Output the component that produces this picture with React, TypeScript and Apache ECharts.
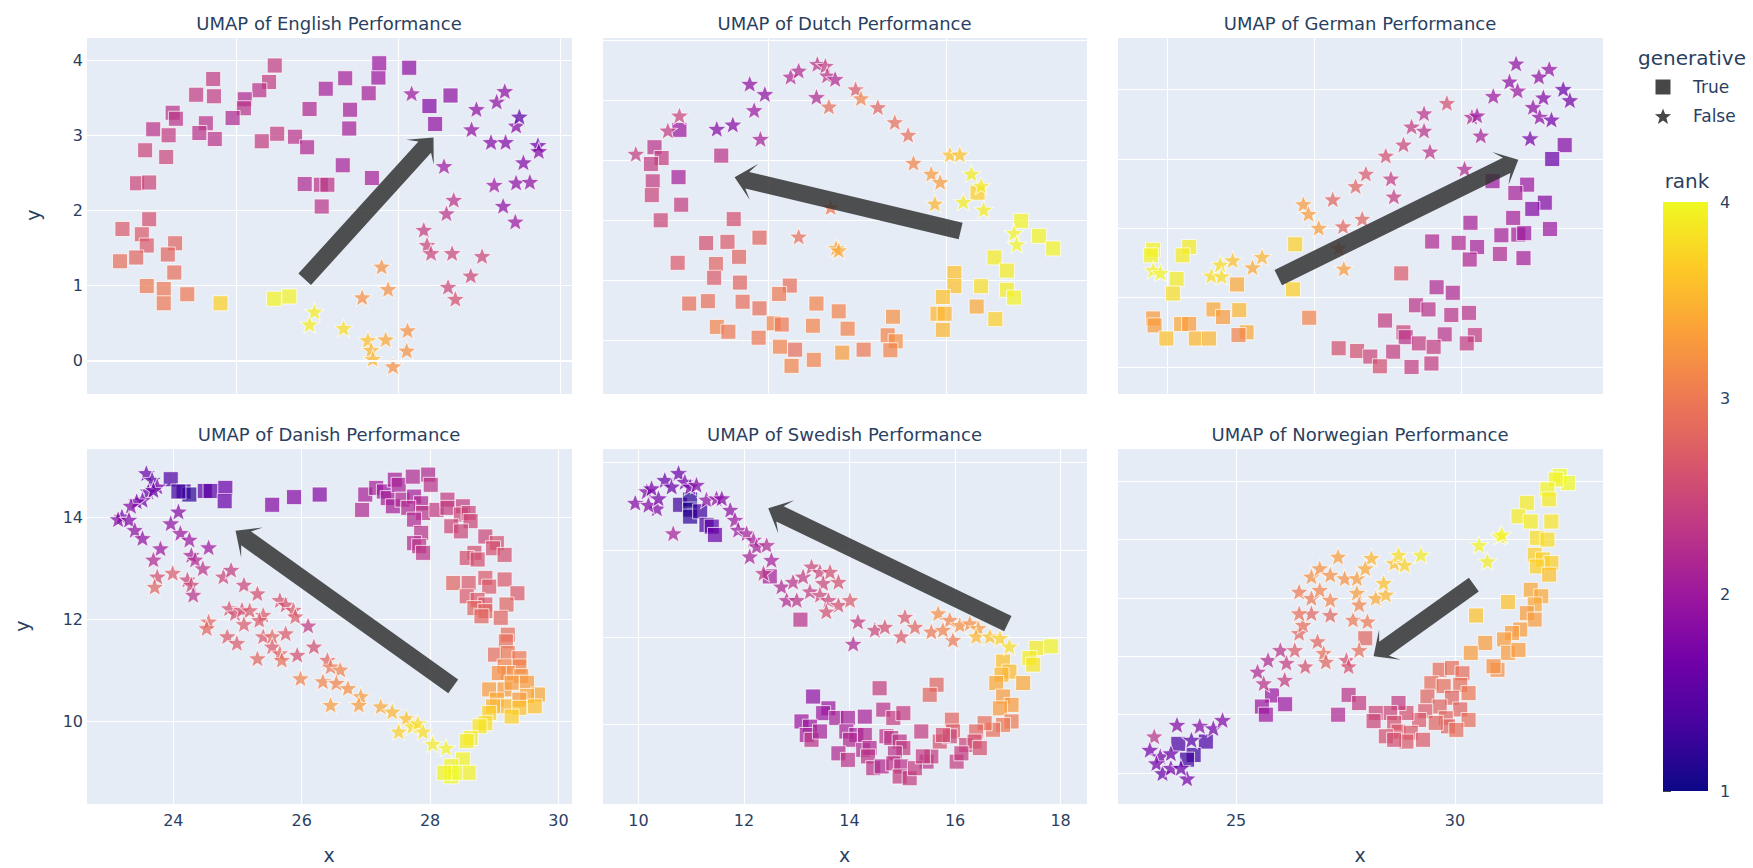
import React, { useEffect, useRef } from 'react';
import * as echarts from 'echarts';

// ---------- data: [x, y, rank] ----------
const englishTrue = [[24.48,3.93,2.4],[24.41,3.71,2.4],[24.29,3.60,2.3],[24.11,3.48,2.2],[24.10,3.36,2.3],[23.96,3.23,2.2],[23.72,3.75,2.4],[23.73,3.52,2.4],[23.51,3.54,2.4],[23.63,3.16,2.3],[23.55,3.03,2.3],[23.74,2.95,2.3],[23.22,3.30,2.3],[23.26,3.22,2.3],[22.98,3.08,2.3],[23.17,3.00,2.4],[22.88,2.80,2.5],[23.14,2.71,2.5],[22.78,2.36,2.5],[22.93,2.37,2.5],[22.93,1.88,2.6],[22.60,1.75,2.7],[22.84,1.68,2.7],[22.90,1.53,2.7],[23.25,1.56,2.8],[23.16,1.41,2.8],[22.77,1.37,2.8],[22.57,1.32,2.9],[23.24,1.17,2.9],[22.90,0.99,3.0],[23.11,0.95,3.0],[23.11,0.76,3.0],[23.40,0.88,3.0],[23.81,0.76,3.7],[24.47,0.82,3.95],[24.66,0.85,3.95],[24.32,2.92,2.4],[24.51,3.02,2.4],[24.73,2.98,2.3],[24.88,2.84,2.2],[24.91,3.35,2.2],[25.11,3.62,2.1],[25.35,3.76,2.1],[25.41,3.34,2.1],[25.40,3.09,2.1],[25.64,3.56,2.1],[25.76,3.77,2.0],[25.77,3.96,2.0],[26.14,3.90,1.9],[26.39,3.39,1.8],[26.46,3.15,1.9],[26.65,3.53,1.9],[25.32,2.60,2.1],[25.68,2.43,2.1],[24.85,2.35,2.2],[25.05,2.34,2.3],[25.13,2.34,2.3],[25.06,2.05,2.3]];
const englishFalse = [[26.17,3.56,2.0],[26.57,2.59,2.0],[26.91,3.08,1.9],[26.97,3.35,1.9],[27.22,3.45,1.9],[27.32,3.59,1.9],[27.15,2.91,1.8],[27.33,2.91,1.8],[27.46,3.13,1.8],[27.50,3.25,1.5],[27.73,2.87,1.6],[27.74,2.79,1.8],[27.55,2.64,1.8],[27.19,2.34,2.0],[27.46,2.37,1.9],[27.63,2.38,1.9],[27.30,2.06,1.9],[27.45,1.85,2.0],[26.69,2.14,2.3],[26.60,1.96,2.3],[26.32,1.74,2.4],[26.36,1.54,2.5],[26.41,1.43,2.5],[26.67,1.43,2.5],[27.04,1.39,2.5],[26.90,1.13,2.5],[26.62,0.98,2.5],[26.71,0.82,2.6],[25.80,1.25,3.2],[25.88,0.95,3.2],[25.56,0.84,3.2],[24.97,0.65,3.9],[24.91,0.48,3.9],[25.33,0.43,3.8],[25.63,0.27,3.6],[25.67,0.14,3.5],[25.69,0.02,3.5],[25.85,0.28,3.4],[26.12,0.40,3.2],[26.11,0.13,3.2],[25.94,-0.08,3.2]];

const dutchTrue = [[13.00,4.51,2.0],[12.72,4.22,2.3],[12.80,4.04,2.4],[12.68,3.94,2.4],[13.47,4.08,2.3],[12.70,3.65,2.4],[12.99,3.72,2.1],[12.69,3.42,2.5],[13.02,3.26,2.4],[12.79,3.00,2.5],[13.61,3.02,2.6],[13.30,2.62,2.6],[13.54,2.64,2.7],[13.90,2.71,2.8],[12.98,2.29,2.7],[13.41,2.27,2.8],[13.67,2.39,2.8],[13.39,2.04,2.7],[13.68,1.96,2.8],[13.11,1.61,2.9],[13.32,1.65,2.9],[13.71,1.64,2.9],[13.90,1.53,2.9],[14.24,1.91,2.9],[14.12,1.77,3.0],[13.42,1.22,3.1],[13.55,1.14,3.0],[13.89,1.04,3.0],[14.06,1.28,3.1],[14.15,1.26,3.0],[14.13,0.89,3.1],[14.30,0.84,2.9],[14.26,0.57,3.1],[14.54,1.61,3.1],[14.50,1.24,3.1],[14.79,1.48,3.1],[14.89,1.19,3.1],[14.51,0.67,3.1],[14.83,0.79,3.3],[15.07,0.84,3.0],[15.40,1.39,3.2],[15.34,1.08,3.1],[15.43,0.98,3.2],[15.37,0.83,3.1],[16.09,2.12,3.6],[16.09,1.90,3.6],[15.96,1.72,3.6],[15.90,1.44,3.5],[15.98,1.44,3.5],[15.96,1.17,3.5],[16.34,1.56,3.4],[16.39,1.90,3.8],[16.55,1.35,3.7],[16.54,2.38,3.9],[16.68,2.16,3.9],[16.68,1.84,3.9],[16.76,1.71,3.95],[16.35,3.46,3.7],[16.84,2.99,3.95],[17.04,2.74,3.95],[17.20,2.53,3.95]];
const dutchFalse = [[12.51,4.11,2.4],[12.87,4.50,2.4],[13.00,4.75,2.5],[13.42,4.53,1.8],[13.60,4.60,1.8],[13.79,5.28,1.9],[13.96,5.11,1.9],[13.84,4.84,2.0],[13.91,4.36,2.1],[14.25,5.40,2.2],[14.34,5.50,2.2],[14.55,5.61,2.3],[14.64,5.58,2.4],[14.66,5.42,2.3],[14.75,5.36,2.2],[14.54,5.06,2.2],[14.68,4.90,2.9],[14.98,5.19,2.7],[15.04,5.04,3.1],[15.23,4.89,2.8],[15.42,4.64,2.9],[15.57,4.43,2.9],[15.63,3.96,3.1],[15.83,3.78,3.3],[15.93,3.64,3.3],[15.87,3.28,3.5],[16.04,4.10,3.6],[16.15,4.10,3.6],[16.28,3.78,3.9],[16.39,3.58,3.9],[16.19,3.31,3.9],[16.42,3.18,3.9],[16.76,2.79,3.95],[16.79,2.60,3.95],[14.70,3.22,3.0],[14.34,2.73,2.9],[14.76,2.54,3.4],[14.79,2.50,3.4]];

const germanTrue = [[13.40,4.20,1.8],[13.23,4.00,1.6],[12.42,3.68,2.0],[12.89,3.63,2.0],[12.73,3.51,2.1],[13.13,3.37,1.8],[12.96,3.28,1.8],[12.70,3.15,2.1],[12.12,3.08,2.1],[13.20,2.99,2.0],[12.54,2.90,2.1],[12.77,2.91,2.1],[12.85,2.93,2.0],[11.60,2.81,2.2],[11.96,2.79,2.2],[12.21,2.73,2.1],[12.11,2.55,2.2],[12.52,2.63,2.2],[12.84,2.57,2.1],[11.18,2.35,2.7],[11.66,2.15,2.2],[11.88,2.07,2.2],[11.38,1.89,2.3],[11.55,1.83,2.3],[10.96,1.67,2.4],[11.86,1.75,2.3],[12.10,1.78,2.3],[11.21,1.50,2.5],[11.24,1.43,2.3],[11.77,1.47,2.3],[12.18,1.46,2.4],[12.07,1.34,2.4],[11.42,1.34,2.4],[11.62,1.29,2.4],[10.33,1.27,2.6],[10.58,1.23,2.6],[10.76,1.15,2.5],[11.07,1.22,2.4],[10.89,1.01,2.6],[11.32,1.00,2.4],[11.59,1.05,2.4],[9.74,2.77,3.7],[9.71,2.12,3.7],[9.93,1.71,3.1],[8.95,2.19,3.4],[8.30,2.73,3.9],[7.81,2.69,3.95],[7.78,2.61,3.95],[8.21,2.61,3.9],[8.13,2.27,3.9],[8.08,2.06,3.8],[7.81,1.70,3.3],[7.83,1.60,3.3],[8.19,1.62,3.4],[8.30,1.62,3.3],[7.99,1.41,3.6],[8.39,1.41,3.5],[8.57,1.41,3.5],[8.63,1.83,3.4],[8.76,1.72,3.3],[8.98,1.82,3.5],[9.08,1.50,3.4],[8.97,1.46,3.1]];
const germanFalse = [[12.74,5.38,1.9],[13.19,5.30,1.9],[13.05,5.19,1.9],[12.65,5.12,1.9],[12.76,4.99,2.0],[13.38,5.01,1.6],[13.47,4.85,1.7],[13.11,4.89,1.8],[12.97,4.75,1.9],[13.06,4.61,1.9],[13.22,4.57,1.7],[12.43,4.91,2.0],[12.93,4.30,1.7],[11.80,4.81,2.6],[11.49,4.66,2.3],[11.32,4.47,2.4],[11.49,4.41,2.3],[12.14,4.61,2.2],[12.21,4.63,2.0],[12.26,4.34,2.1],[11.21,4.21,2.5],[11.57,4.11,2.3],[10.97,4.05,2.6],[12.04,3.86,2.2],[10.70,3.79,2.7],[11.04,3.72,2.4],[10.56,3.61,2.8],[11.08,3.46,2.4],[10.25,3.42,2.8],[9.85,3.35,3.3],[9.92,3.21,3.3],[10.65,3.14,2.8],[10.39,3.03,2.8],[10.06,3.01,3.3],[10.33,2.72,3.0],[10.40,2.42,3.3],[9.29,2.59,3.5],[9.16,2.44,3.4],[8.89,2.54,3.6],[8.72,2.48,3.8],[8.60,2.32,3.8],[8.74,2.31,3.8],[7.81,2.40,3.95],[7.91,2.36,3.95]];

const danishTrue = [[23.96,14.74,1.4],[24.16,14.50,1.3],[24.25,14.44,1.2],[24.08,14.50,1.3],[24.49,14.51,1.5],[24.58,14.51,1.5],[24.81,14.57,1.6],[24.80,14.31,1.6],[25.54,14.24,1.8],[25.88,14.39,1.8],[26.28,14.44,1.8],[26.94,14.14,2.2],[26.99,14.44,2.1],[27.16,14.57,2.1],[27.28,14.50,2.0],[27.34,14.37,2.1],[27.45,14.73,2.1],[27.51,14.63,2.1],[27.42,14.21,2.1],[27.57,14.34,2.2],[27.73,14.79,2.2],[27.75,14.40,2.1],[27.86,14.27,2.2],[27.97,14.83,2.2],[28.01,14.63,2.3],[27.66,14.18,2.2],[27.89,14.08,2.3],[27.75,13.95,2.2],[28.10,14.14,2.4],[28.27,14.34,2.4],[28.27,14.18,2.4],[28.51,14.21,2.4],[28.48,14.05,2.5],[28.60,14.08,2.5],[28.63,13.92,2.5],[28.33,13.82,2.5],[28.48,13.72,2.5],[27.86,13.69,2.3],[27.75,13.49,2.2],[27.83,13.43,2.3],[27.89,13.30,2.3],[28.86,13.62,2.5],[29.04,13.49,2.6],[28.98,13.39,2.6],[29.16,13.26,2.6],[28.69,13.30,2.6],[28.57,13.20,2.6],[28.74,13.17,2.6],[28.36,12.71,2.8],[28.60,12.71,2.7],[28.86,12.81,2.7],[29.16,12.78,2.7],[28.92,12.64,2.7],[29.36,12.51,2.7],[28.57,12.45,2.7],[28.74,12.38,2.7],[28.86,12.29,2.7],[29.19,12.29,2.8],[28.69,12.22,2.8],[28.86,12.16,2.8],[29.10,12.03,2.8],[28.80,12.06,2.8],[29.21,11.70,2.9],[29.18,11.57,2.9],[29.01,11.31,2.9],[29.21,11.34,3.0],[29.39,11.24,3.0],[29.39,11.08,3.1],[29.16,11.08,3.1],[29.21,10.95,3.2],[29.07,10.95,3.2],[29.42,10.89,3.2],[29.51,10.76,3.3],[28.92,10.63,3.3],[29.16,10.63,3.3],[29.27,10.76,3.3],[29.68,10.53,3.4],[29.51,10.50,3.4],[29.39,10.43,3.3],[29.04,10.43,3.4],[29.16,10.30,3.5],[28.98,10.30,3.5],[29.63,10.30,3.6],[29.39,10.27,3.6],[29.27,10.10,3.7],[28.92,10.17,3.7],[28.86,9.97,3.8],[28.77,9.91,3.85],[28.63,9.68,3.9],[28.57,9.62,3.9],[28.51,9.26,3.95],[28.33,9.13,3.95],[28.33,8.93,4.0],[28.60,9.00,3.95],[28.39,9.00,4.0],[28.22,9.00,3.95]];
const danishFalse = [[23.58,14.86,1.6],[23.67,14.73,1.5],[23.75,14.60,1.7],[23.61,14.50,1.6],[23.69,14.53,1.6],[23.52,14.34,1.7],[23.43,14.31,1.7],[23.34,14.22,1.8],[23.20,14.01,1.7],[23.14,13.96,1.8],[23.31,13.95,1.8],[23.40,13.75,1.9],[23.52,13.59,1.9],[24.08,14.11,1.8],[23.96,13.88,1.9],[24.11,13.69,2.0],[24.25,13.56,2.0],[24.55,13.41,2.0],[23.80,13.39,2.0],[23.69,13.17,2.2],[24.28,13.26,2.1],[24.34,13.17,2.2],[24.46,13.00,2.3],[23.99,12.91,2.7],[23.75,12.84,2.6],[23.71,12.64,2.8],[24.22,12.78,2.5],[24.28,12.68,2.5],[24.31,12.48,2.3],[24.78,12.84,2.5],[24.90,12.97,2.4],[25.10,12.68,2.5],[25.31,12.51,2.6],[24.87,12.22,2.6],[24.96,12.12,2.6],[25.07,12.19,2.6],[25.19,12.18,2.7],[25.40,12.09,2.7],[25.66,12.38,2.6],[25.75,12.29,2.6],[25.87,12.19,2.7],[25.90,12.06,2.7],[24.55,11.96,2.8],[24.52,11.83,2.8],[25.10,11.91,2.7],[25.34,11.99,2.7],[26.10,11.88,2.4],[24.84,11.67,2.7],[24.99,11.54,2.7],[25.40,11.67,2.7],[25.54,11.67,2.8],[25.75,11.73,2.7],[25.54,11.47,2.7],[26.19,11.47,2.6],[25.66,11.34,2.8],[25.93,11.31,2.6],[25.31,11.24,2.8],[25.69,11.21,2.9],[26.40,11.21,2.8],[26.45,11.08,3.0],[26.60,11.02,3.1],[25.98,10.85,3.1],[26.33,10.79,3.1],[26.54,10.76,3.1],[26.72,10.66,3.2],[26.45,10.33,3.3],[26.92,10.50,3.3],[26.89,10.33,3.3],[27.23,10.30,3.4],[27.41,10.20,3.5],[27.63,10.07,3.6],[27.51,9.81,3.7],[27.72,9.91,3.8],[27.81,9.97,3.8],[27.89,9.81,3.8],[28.04,9.57,3.9],[28.25,9.49,3.95]];

const swedishTrue = [[10.79,13.03,1.3],[10.98,13.15,1.2],[10.98,12.92,1.1],[10.98,12.76,1.2],[11.17,12.88,1.3],[11.29,12.57,1.4],[11.39,12.53,1.5],[11.45,12.34,1.6],[12.49,11.39,2.1],[13.07,10.40,2.3],[17.54,9.75,3.9],[17.82,9.79,3.95],[17.41,9.52,3.9],[17.48,9.37,3.85],[16.91,9.44,3.6],[17.03,9.21,3.55],[16.88,9.14,3.5],[17.29,8.95,3.4],[16.78,8.95,3.4],[16.91,8.64,3.3],[17.07,8.45,3.3],[16.85,8.37,3.3],[17.07,8.07,3.0],[16.91,7.99,3.0],[16.72,7.88,2.9],[16.56,8.03,2.9],[16.40,7.84,2.8],[13.31,8.64,1.9],[14.57,8.83,2.4],[15.65,8.91,2.8],[15.52,8.68,2.8],[15.94,8.11,2.8],[15.96,7.84,2.7],[13.60,8.37,2.0],[13.50,8.26,2.0],[13.75,8.15,2.1],[13.09,8.07,2.0],[13.25,7.95,2.0],[13.19,7.76,2.1],[13.28,7.65,2.3],[13.44,7.84,2.1],[13.97,8.15,2.1],[14.29,8.18,2.1],[14.64,8.34,2.3],[14.83,8.15,2.4],[15.02,8.26,2.4],[13.94,7.84,2.1],[14.13,7.76,2.1],[14.01,7.65,2.2],[14.29,7.76,2.2],[14.26,7.42,2.2],[14.38,7.46,2.2],[14.70,7.73,2.3],[14.79,7.69,2.3],[14.95,7.61,2.3],[15.02,7.46,2.4],[14.86,7.34,2.3],[13.79,7.34,2.2],[13.97,7.19,2.3],[14.35,7.27,2.3],[14.45,7.00,2.3],[14.61,7.04,2.2],[14.83,7.11,2.3],[14.98,7.04,2.3],[14.95,6.81,2.4],[15.14,6.77,2.4],[15.36,7.84,2.4],[15.46,7.15,2.3],[15.55,7.27,2.4],[15.71,7.61,2.6],[15.90,7.73,2.5],[16.03,7.15,2.4],[16.21,7.53,2.5],[16.37,7.61,2.6],[16.47,7.46,2.6],[16.12,7.34,2.4],[15.24,7.00,2.4],[15.77,7.76,2.6],[15.39,7.27,2.4]];
const swedishFalse = [[9.94,13.08,1.8],[10.16,13.34,1.8],[10.25,13.41,1.7],[10.35,12.95,1.8],[10.19,13.03,1.8],[10.38,13.18,1.7],[10.50,13.60,1.6],[10.63,13.45,1.6],[10.76,13.76,1.6],[10.88,13.56,1.7],[10.98,13.45,1.7],[11.10,13.49,1.8],[10.66,12.38,2.1],[11.29,13.15,1.9],[11.48,13.18,1.9],[11.58,13.18,1.8],[11.74,12.92,1.9],[11.83,12.69,2.0],[11.89,12.46,2.0],[12.05,12.38,2.1],[12.18,12.23,2.1],[12.24,12.08,2.1],[12.43,12.11,2.2],[12.11,11.85,2.1],[12.52,11.77,2.1],[12.37,11.47,2.3],[12.71,11.16,2.2],[12.81,10.85,2.2],[13.00,10.85,2.3],[12.93,11.27,2.3],[13.12,11.39,2.4],[13.28,11.62,2.5],[13.44,11.50,2.5],[13.63,11.50,2.6],[13.50,11.24,2.5],[13.79,11.27,2.6],[13.25,11.05,2.4],[13.44,10.97,2.5],[13.60,10.85,2.5],[13.79,10.74,2.6],[14.01,10.85,2.7],[13.56,10.59,2.6],[14.16,10.36,2.4],[14.07,9.85,2.2],[14.48,10.17,2.5],[14.67,10.24,2.6],[14.98,10.02,2.7],[15.05,10.47,2.7],[15.24,10.24,2.8],[15.55,10.13,3.0],[15.68,10.55,3.2],[15.90,10.40,3.1],[15.96,9.94,3.0],[15.77,10.17,3.1],[16.09,10.28,3.2],[16.28,10.32,3.2],[16.44,10.21,3.3],[16.40,10.02,3.5],[16.66,10.02,3.6],[16.85,9.98,3.7],[17.03,9.79,3.8]];

const norwegianTrue = [[32.39,8.09,4.0],[32.58,7.97,4.0],[32.30,8.03,3.95],[32.11,7.86,3.95],[32.15,7.69,3.9],[31.64,7.63,3.9],[31.45,7.40,3.9],[31.73,7.31,3.9],[32.20,7.31,3.85],[31.87,7.03,3.8],[32.11,7.00,3.8],[31.82,6.74,3.7],[32.01,6.66,3.7],[32.20,6.60,3.7],[31.87,6.54,3.7],[32.15,6.40,3.6],[31.73,6.14,3.4],[31.97,6.03,3.4],[31.82,5.89,3.4],[31.64,5.74,3.3],[31.82,5.63,3.3],[31.21,5.93,3.6],[30.48,5.70,3.6],[31.49,5.46,3.3],[31.30,5.40,3.3],[31.12,5.29,3.3],[30.69,5.23,3.3],[31.21,5.06,3.3],[31.45,5.11,3.3],[30.36,5.06,3.3],[30.97,4.77,3.2],[30.88,4.83,3.2],[29.65,4.77,2.9],[29.93,4.80,2.9],[30.17,4.71,2.9],[29.46,4.54,2.9],[29.74,4.49,2.9],[30.12,4.51,2.9],[30.31,4.37,3.0],[29.37,4.31,2.8],[29.93,4.29,2.8],[29.65,4.14,2.8],[29.32,4.06,2.7],[30.12,4.09,2.8],[30.31,3.91,2.9],[29.79,3.94,2.8],[29.84,3.80,2.8],[30.03,3.74,2.9],[29.56,3.86,2.8],[29.18,3.91,2.7],[28.89,4.03,2.6],[28.71,4.20,2.4],[28.52,4.03,2.5],[28.19,4.03,2.5],[28.14,3.89,2.5],[28.61,3.86,2.6],[28.71,3.71,2.7],[28.42,3.63,2.6],[28.99,3.69,2.7],[29.27,3.57,2.7],[28.89,3.54,2.7],[28.61,3.57,2.6],[27.95,5.31,2.8],[27.57,4.34,2.3],[27.81,4.20,2.4],[27.33,4.00,2.2],[25.82,4.33,2.0],[26.12,4.18,2.0],[25.59,4.14,2.0],[25.68,4.00,2.0],[23.68,3.50,1.4],[24.31,3.54,1.4],[24.03,3.31,1.3],[23.88,3.23,1.3]];
const norwegianFalse = [[23.13,3.63,2.3],[23.65,3.83,1.8],[24.17,3.81,1.8],[24.48,3.77,1.7],[24.69,3.91,1.8],[23.03,3.40,1.7],[23.27,3.29,1.7],[23.51,3.34,1.6],[23.18,3.17,1.7],[23.32,3.00,1.6],[23.51,3.09,1.7],[23.88,2.91,1.7],[23.74,3.09,1.6],[23.98,3.57,1.5],[25.49,4.74,2.2],[25.73,4.94,2.2],[26.01,5.11,2.3],[25.63,4.54,2.3],[26.11,4.60,2.4],[26.34,5.11,2.7],[26.58,4.83,2.6],[26.15,4.89,2.4],[26.44,5.40,2.8],[26.86,5.26,2.8],[27.00,5.06,2.9],[27.05,4.91,2.8],[27.52,4.94,2.6],[27.57,4.83,2.6],[27.81,5.11,2.9],[27.67,5.63,3.0],[28.00,5.60,3.0],[26.53,5.54,2.9],[26.72,5.74,2.8],[27.15,5.71,2.8],[26.44,5.74,2.9],[26.44,6.11,3.0],[26.72,6.00,3.0],[26.91,6.14,3.1],[27.15,5.97,3.1],[26.72,6.37,3.2],[26.91,6.51,3.2],[27.15,6.40,3.2],[27.33,6.71,3.3],[27.48,6.34,3.2],[27.76,6.34,3.3],[27.76,6.09,3.3],[27.81,5.89,3.1],[28.09,6.69,3.5],[27.95,6.51,3.4],[28.19,6.00,3.4],[28.42,6.06,3.5],[28.37,6.26,3.6],[28.61,6.60,3.6],[28.71,6.74,3.8],[28.85,6.57,3.7],[29.22,6.74,3.9],[30.55,6.91,3.95],[30.74,6.63,3.9],[31.02,7.06,3.95],[31.07,7.09,3.95]];

// arrows: [xStart, yStart, xEnd, yEnd]
const englishArrow = [24.85, 1.08, 26.44, 2.97];
const dutchArrow = [16.16, 2.82, 13.62, 3.72];
const germanArrow = [9.51, 2.29, 12.77, 3.99];
const danishArrow = [28.36, 10.69, 24.97, 13.73];
const swedishArrow = [17.0, 10.31, 12.46, 12.95];
const norwegianArrow = [30.43, 6.23, 28.14, 5.0];

const panelTitles = ['UMAP of English Performance', 'UMAP of Dutch Performance', 'UMAP of German Performance', 'UMAP of Danish Performance', 'UMAP of Swedish Performance', 'UMAP of Norwegian Performance'];
// axis ranges: [min, max, tick interval]
const xRanges = [[22.15, 28.15, 2], [12.13, 17.58, 2], [7.32, 13.92, 2], [22.64, 30.21, 2], [9.31, 18.5, 2], [22.28, 33.38, 5]];
const yRanges = [[-0.45, 4.31, 1], [0.1, 6.06, 1], [0.61, 5.76, 1], [8.39, 15.35, 2], [6.18, 14.33, 2], [2.47, 8.57, 1]];
const rankTicks = [1, 4, 1];
const legendNames = ['True', 'False'];
const plasma = ['#0d0887', '#46039f', '#7201a8', '#9c179e', '#bd3786', '#d8576b', '#ed7953', '#fb9f3a', '#fdca26', '#f0f921'];

const trueSets = [englishTrue, dutchTrue, germanTrue, danishTrue, swedishTrue, norwegianTrue];
const falseSets = [englishFalse, dutchFalse, germanFalse, danishFalse, swedishFalse, norwegianFalse];
const arrows = [englishArrow, dutchArrow, germanArrow, danishArrow, swedishArrow, norwegianArrow];

// ---------- layout ----------
const FONT = '"DejaVu Sans", Verdana, sans-serif';
const TXT = '#2a3f5f';
const gridBoxes = [
  { left: 86, top: 37, width: 486, height: 357 },
  { left: 602, top: 37, width: 485, height: 357 },
  { left: 1117, top: 37, width: 486, height: 357 },
  { left: 86, top: 448, width: 486, height: 356 },
  { left: 602, top: 448, width: 485, height: 356 },
  { left: 1117, top: 448, width: 486, height: 356 },
];

function starPoints(cx: number, cy: number, R: number): number[][] {
  const pts: number[][] = [];
  for (let i = 0; i < 10; i++) {
    const a = -Math.PI / 2 + (i * Math.PI) / 5;
    const r = i % 2 === 0 ? R : R * 0.42;
    pts.push([cx + r * Math.cos(a), cy + r * Math.sin(a)]);
  }
  return pts;
}
const STAR = 'path://M' + starPoints(0, 0, 1).map((p) => `${p[0].toFixed(4)} ${p[1].toFixed(4)}`).join(' L') + ' Z';

function arrowRender(_params: any, api: any) {
  const p0 = api.coord([api.value(0), api.value(1)]);
  const p1 = api.coord([api.value(2), api.value(3)]);
  const dx = p1[0] - p0[0];
  const dy = p1[1] - p0[1];
  const L = Math.hypot(dx, dy) || 1;
  const ux = dx / L, uy = dy / L, nx = -uy, ny = ux;
  const sw = 8.5, hw = 18.5, hl = 20, notch = 13;
  const pt = (along: number, across: number) => [p1[0] + ux * along + nx * across, p1[1] + uy * along + ny * across];
  const points = [
    [p0[0] + nx * sw, p0[1] + ny * sw],
    pt(-notch, sw),
    pt(-hl, hw),
    [p1[0], p1[1]],
    pt(-hl, -hw),
    pt(-notch, -sw),
    [p0[0] - nx * sw, p0[1] - ny * sw],
  ];
  return { type: 'polygon', shape: { points }, style: { fill: 'rgba(50,50,50,0.85)' } };
}

function colorbarRender(_params: any, api: any) {
  const a = api.coord([api.value(0), api.value(3)]);
  const b = api.coord([api.value(1), api.value(2)]);
  return {
    type: 'rect',
    shape: { x: a[0], y: a[1], width: b[0] - a[0], height: b[1] - a[1] },
    style: {
      fill: new echarts.graphic.LinearGradient(0, 1, 0, 0, plasma.map((c, i) => ({ offset: i / (plasma.length - 1), color: c }))),
    },
  };
}

function txt(text: string, x: number, y: number, fontSize: number, align = 'center', rotation = 0) {
  return {
    type: 'text', x, y, rotation, silent: true,
    style: { text, fontSize, fill: TXT, fontFamily: FONT, textAlign: align, textVerticalAlign: 'middle' },
  };
}

function buildOption(): any {
  const grid: any[] = gridBoxes.map((g) => ({ ...g, show: true, backgroundColor: '#E5ECF6', borderWidth: 0 }));
  grid.push({ left: 1663, top: 202, width: 45, height: 589, show: false });

  const xAxis: any[] = xRanges.map((r, i) => ({
    gridIndex: i, type: 'value', min: r[0], max: r[1], minInterval: r[2], maxInterval: r[2],
    axisLine: { show: false }, axisTick: { show: false },
    splitLine: { show: true, lineStyle: { color: '#ffffff', width: 1 } },
    axisLabel: { show: i >= 3, showMinLabel: false, showMaxLabel: false, fontSize: 16, color: TXT, fontFamily: FONT, margin: 8 },
  }));
  xAxis.push({ gridIndex: 6, type: 'value', min: 0, max: 1, show: false });

  const yAxis: any[] = yRanges.map((r, i) => ({
    gridIndex: i, type: 'value', min: r[0], max: r[1], minInterval: r[2], maxInterval: r[2],
    axisLine: { show: false }, axisTick: { show: false },
    splitLine: { show: true, lineStyle: { color: '#ffffff', width: 1 } },
    axisLabel: { show: i === 0 || i === 3, showMinLabel: false, showMaxLabel: false, fontSize: 16, color: TXT, fontFamily: FONT, margin: 3 },
  }));
  yAxis.push({
    gridIndex: 6, type: 'value', min: rankTicks[0], max: rankTicks[1], interval: rankTicks[2], position: 'right',
    axisLine: { show: false }, splitLine: { show: false },
    axisTick: { show: true, length: 8, lineStyle: { color: '#444', width: 1 } },
    axisLabel: { fontSize: 16, color: TXT, fontFamily: FONT, margin: 12 },
  });

  const series: any[] = [];
  const scatterIdx: number[] = [];
  // zero line for the English y axis
  series.push({
    type: 'line', xAxisIndex: 0, yAxisIndex: 0, data: [], z: 1, silent: true,
    markLine: { silent: true, symbol: 'none', label: { show: false }, lineStyle: { color: '#ffffff', width: 2, type: 'solid' }, data: [{ yAxis: 0 }], animation: false },
  });
  for (let i = 0; i < 6; i++) {
    scatterIdx.push(series.length);
    series.push({
      name: legendNames[0], type: 'scatter', xAxisIndex: i, yAxisIndex: i, data: trueSets[i],
      symbol: 'rect', symbolSize: 15, z: 3,
      itemStyle: { opacity: 0.72, borderColor: '#ffffff', borderWidth: 1 },
    });
    scatterIdx.push(series.length);
    series.push({
      name: legendNames[1], type: 'scatter', xAxisIndex: i, yAxisIndex: i, data: falseSets[i],
      symbol: STAR, symbolSize: [19, 18], z: 3,
      itemStyle: { opacity: 0.72, borderColor: '#ffffff', borderWidth: 1 },
    });
  }
  for (let i = 0; i < 6; i++) {
    series.push({ type: 'custom', xAxisIndex: i, yAxisIndex: i, data: [arrows[i]], renderItem: arrowRender, z: 5, silent: true });
  }
  series.push({ type: 'custom', xAxisIndex: 6, yAxisIndex: 6, data: [[0, 1, rankTicks[0], rankTicks[1]]], renderItem: colorbarRender, silent: true, z: 2 });

  const graphic: any[] = [];
  gridBoxes.forEach((g, i) => graphic.push(txt(panelTitles[i], g.left + g.width / 2, i < 3 ? 23 : 434, 18)));
  graphic.push(txt('y', 33, 215, 19, 'center', Math.PI / 2));
  graphic.push(txt('y', 22, 626, 19, 'center', Math.PI / 2));
  [3, 4, 5].forEach((i) => graphic.push(txt('x', gridBoxes[i].left + gridBoxes[i].width / 2, 855, 19)));
  // legend
  graphic.push(txt('generative', 1692, 58, 20));
  graphic.push({ type: 'rect', silent: true, shape: { x: 1655.5, y: 79.5, width: 15, height: 15 }, style: { fill: '#474747' } });
  graphic.push({ type: 'polygon', silent: true, shape: { points: starPoints(1663, 117, 8.5) }, style: { fill: '#474747' } });
  graphic.push(txt(legendNames[0], 1693, 87, 17, 'left'));
  graphic.push(txt(legendNames[1], 1693, 116, 17, 'left'));
  // colorbar title
  graphic.push(txt('rank', 1687, 181, 20));

  return {
    animation: false,
    backgroundColor: '#ffffff',
    textStyle: { fontFamily: FONT },
    grid, xAxis, yAxis, series, graphic,
    visualMap: {
      type: 'continuous', show: false, min: 1, max: 4, dimension: 2, seriesIndex: scatterIdx,
      inRange: { color: plasma },
    },
  };
}

export default function App() {
  const ref = useRef<HTMLDivElement>(null);
  useEffect(() => {
    if (!ref.current) return;
    const chart = echarts.init(ref.current, undefined, { renderer: 'svg' });
    chart.setOption(buildOption());
    return () => chart.dispose();
  }, []);
  return <div ref={ref} style={{ position: 'absolute', left: 0, top: 0, width: 1753, height: 868, background: '#ffffff' }} />;
}
